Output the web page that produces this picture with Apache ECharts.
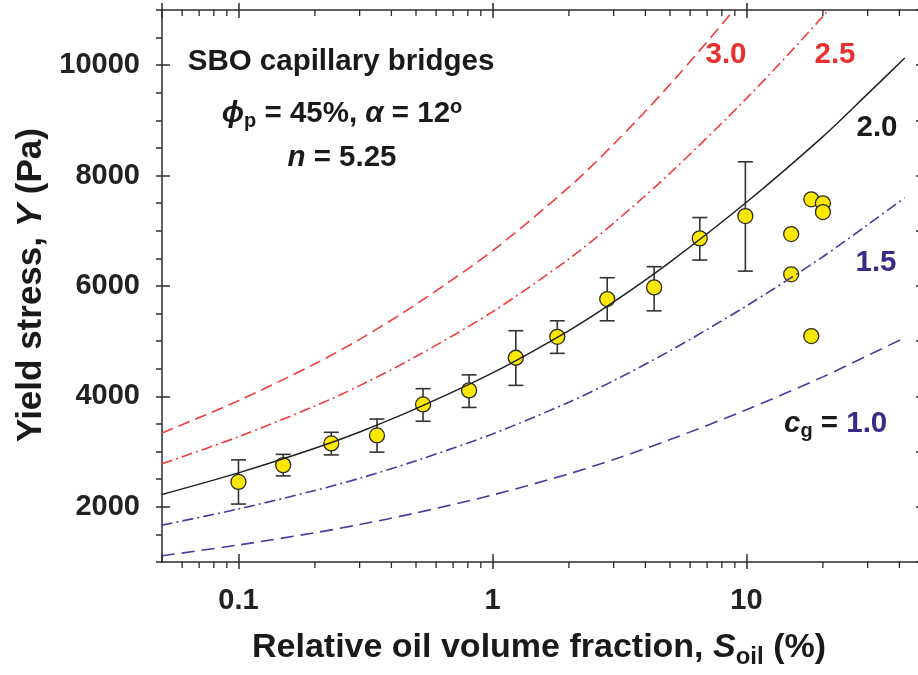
<!DOCTYPE html>
<html>
<head>
<meta charset="utf-8">
<script src="https://cdn.jsdelivr.net/npm/echarts@6/dist/echarts.min.js"></script>
<style>
html, body { margin: 0; padding: 0; background: #fff; }
#chart { width: 918px; height: 675px; }
</style>
</head>
<body>
<div id="chart"></div>
<script>
// Yield stress of SBO capillary-bridge suspensions vs. relative oil volume fraction
const soil      = [0.1, 0.15, 0.232, 0.351, 0.533, 0.809, 1.236, 1.8, 2.83, 4.33, 6.55, 9.9];
const yieldMean = [2450, 2755, 3148, 3293, 3855, 4109, 4700, 5080, 5763, 5975, 6863, 7267];
const yieldLow  = [2050, 2560, 2940, 2990, 3550, 3800, 4200, 4780, 5370, 5550, 6470, 6270];
const yieldHigh = [2850, 2950, 3350, 3590, 4140, 4390, 5190, 5370, 6150, 6350, 7240, 8250];

// Single measurements at high oil content (no error bars)
const soilSingle  = [15, 15, 18, 18, 20, 20];
const yieldSingle = [6941, 6211, 7570, 5093, 7497, 7340];

// Model curves for different c_g
const curveSoil = [0.05, 0.1, 0.2, 0.3, 0.5, 1, 2, 3, 5, 10, 20, 30, 42];
const curveCg10 = [1112, 1308, 1530, 1678, 1889, 2213, 2597, 2856, 3217, 3759, 4354, 4740, 5065];
const curveCg15 = [1668, 1961, 2295, 2517, 2834, 3319, 3895, 4284, 4826, 5639, 6530, 7110, 7598];
const curveCg20 = [2224, 2615, 3060, 3356, 3778, 4425, 5193, 5712, 6434, 7518, 8707, 9480, 10130];
const curveCg25 = [2780, 3269, 3825, 4195, 4723, 5531, 6491, 7140, 8043, 9398, 10884, 11850, 12663];
const curveCg30 = [3336, 3923, 4590, 5034, 5667, 6638, 7790, 8568, 9651, 11277, 13061, 14220, 15195];

// Axes
const xRange = [0.05, 50];
const yRange = [1000, 11000];
const xTicks = [0.1, 1, 10];
const yTicks = [2000, 4000, 6000, 8000, 10000];
const yMinorStep = 500;

const FONT = 'Liberation Sans';
const AXIS_COLOR = '#2b2b2b';
const RED = '#f03c3c';
const RED_TEXT = '#e8302f';
const BLUE = '#4a3a9c';
const BLUE_TEXT = '#3b2a86';
const INK = '#1a1a1a';
const TXT = 29.5;

// Log-axis minor ticks at 2..9 of each decade
const xMinor = [];
for (let e = -2; e <= 1; e++) {
  for (let m = 2; m <= 9; m++) {
    const v = m * Math.pow(10, e);
    if (v > xRange[0] * 1.001 && v < xRange[1] * 0.999) xMinor.push(v);
  }
}
const yAllTicks = [];
for (let v = yRange[0]; v <= yRange[1]; v += yMinorStep) yAllTicks.push(v);

const isDecade = v => Math.abs(Math.log10(v) - Math.round(Math.log10(v))) < 1e-6;

function logAxis(extra) {
  return Object.assign({
    type: 'log', logBase: 10, min: xRange[0], max: xRange[1],
    gridIndex: 0,
    splitLine: { show: false },
    minorTick: { show: false },
    axisLine: { show: true, onZero: false, lineStyle: { color: AXIS_COLOR, width: 1.5 } },
    axisLabel: { show: false },
    axisTick: { show: true, inside: false, length: 7, lineStyle: { color: AXIS_COLOR, width: 1.5 } }
  }, extra);
}
function valAxis(extra) {
  return Object.assign({
    type: 'value', min: yRange[0], max: yRange[1], interval: 1000,
    gridIndex: 0,
    splitLine: { show: false },
    axisLine: { show: true, onZero: false, lineStyle: { color: AXIS_COLOR, width: 1.5 } },
    axisLabel: { show: false },
    axisTick: { show: true, inside: false, length: 7, lineStyle: { color: AXIS_COLOR, width: 1.5 } }
  }, extra);
}

const curveSeries = (name, data, color, dash, width) => ({
  name, type: 'line', xAxisIndex: 0, yAxisIndex: 0,
  data: curveSoil.map((s, i) => [s, data[i]]),
  showSymbol: false, smooth: 0.3, clip: true, z: 5, silent: true,
  lineStyle: { color, width, type: dash }
});

const label = (x, y, text, fill) => ({
  type: 'text', x, y, z: 10,
  style: { text, align: 'center', verticalAlign: 'middle', fill, font: `bold ${TXT}px "${FONT}"` }
});

const chart = echarts.init(document.getElementById('chart'), null, { renderer: 'canvas' });

chart.setOption({
  animation: false,
  backgroundColor: '#fff',
  grid: { left: 162, top: 10, width: 762, height: 552, outerBoundsMode: 'none', containLabel: false },
  xAxis: [
    logAxis({
      position: 'bottom',
      axisLabel: {
        show: true, margin: 24, fontSize: 29, fontWeight: 'bold', fontFamily: FONT, color: '#222',
        showMinLabel: false, showMaxLabel: false,
        formatter: v => (isDecade(v) ? String(+v.toPrecision(6)) : '')
      }
    }),
    logAxis({ position: 'bottom', axisLine: { show: false }, axisTick: { show: true, inside: true, length: 8, lineStyle: { color: AXIS_COLOR, width: 1.5 } } }),
    logAxis({ position: 'top', axisTick: { show: true, inside: true, length: 8, lineStyle: { color: AXIS_COLOR, width: 1.5 } } }),
    logAxis({ position: 'top', axisLine: { show: false } })
  ],
  yAxis: [
    valAxis({
      position: 'left',
      axisLabel: {
        show: true, margin: 22, fontSize: 29, fontWeight: 'bold', fontFamily: FONT, color: '#222',
        customValues: yTicks,
        formatter: v => String(v)
      },
      axisTick: { show: true, inside: false, length: 6, customValues: yAllTicks, lineStyle: { color: AXIS_COLOR, width: 1.5 } }
    }),
    valAxis({ position: 'left', axisLine: { show: false }, axisTick: { show: true, inside: true, length: 8, customValues: yTicks, lineStyle: { color: AXIS_COLOR, width: 1.5 } } }),
    valAxis({ position: 'right', axisTick: { show: true, inside: true, length: 8, lineStyle: { color: AXIS_COLOR, width: 1.5 } } })
  ],
  series: [
    {
      // minor ticks of the logarithmic S_oil axis, bottom (outward) and top (inward)
      type: 'custom', xAxisIndex: 0, yAxisIndex: 0, silent: true, clip: false, z: 1,
      data: xMinor.map(v => [v, yRange[0]]),
      renderItem: (params, api) => {
        const b = api.coord([api.value(0), yRange[0]]);
        const t = api.coord([api.value(0), yRange[1]]);
        const st = { stroke: AXIS_COLOR, lineWidth: 1.3 };
        return { type: 'group', children: [
          { type: 'line', shape: { x1: b[0], y1: b[1], x2: b[0], y2: b[1] + 6 }, style: st },
          { type: 'line', shape: { x1: t[0], y1: t[1], x2: t[0], y2: t[1] + 6 }, style: st }
        ] };
      }
    },
    {
      // error bars
      type: 'custom', xAxisIndex: 0, yAxisIndex: 0, silent: true, z: 2,
      data: soil.map((s, i) => [s, yieldLow[i], yieldHigh[i]]),
      encode: { x: 0, y: [1, 2] },
      renderItem: (params, api) => {
        const lo = api.coord([api.value(0), api.value(1)]);
        const hi = api.coord([api.value(0), api.value(2)]);
        const w = 7.5;
        const st = { stroke: '#333', lineWidth: 1.6 };
        return { type: 'group', children: [
          { type: 'line', shape: { x1: lo[0], y1: lo[1], x2: hi[0], y2: hi[1] }, style: st },
          { type: 'line', shape: { x1: lo[0] - w, y1: lo[1], x2: lo[0] + w, y2: lo[1] }, style: st },
          { type: 'line', shape: { x1: hi[0] - w, y1: hi[1], x2: hi[0] + w, y2: hi[1] }, style: st }
        ] };
      }
    },
    {
      type: 'scatter', xAxisIndex: 0, yAxisIndex: 0, z: 3, silent: true,
      data: soil.map((s, i) => [s, yieldMean[i]]).concat(soilSingle.map((s, i) => [s, yieldSingle[i]])),
      symbol: 'circle', symbolSize: 15,
      itemStyle: { color: '#ffe800', borderColor: '#2a2a2a', borderWidth: 1.3, opacity: 1 }
    },
    curveSeries('c_g = 1.0', curveCg10, BLUE, [13, 7], 1.6),
    curveSeries('c_g = 1.5', curveCg15, BLUE, [11, 4, 2, 4], 1.6),
    curveSeries('c_g = 2.0', curveCg20, '#222', 'solid', 1.5),
    curveSeries('c_g = 2.5', curveCg25, RED, [11, 4, 2, 4], 1.6),
    curveSeries('c_g = 3.0', curveCg30, RED, [12, 6], 1.6)
  ],
  graphic: [
    // parameter box
    label(341, 62, 'SBO capillary bridges', INK),
    { type: 'text', x: 342, y: 114, z: 10, style: {
      text: '{gi|ϕ}{sub|p}{n| = 45%, }{gi|α}{n| = 12}{sup|o}', align: 'center', verticalAlign: 'middle',
      rich: {
        n:   { fill: INK, fontSize: TXT, fontWeight: 'bold', fontFamily: FONT, lineHeight: 34, verticalAlign: 'middle' },
        gi:  { fill: INK, fontSize: TXT, fontWeight: 'bold', fontStyle: 'italic', fontFamily: FONT, lineHeight: 34, verticalAlign: 'middle' },
        sub: { fill: INK, fontSize: 20, fontWeight: 'bold', fontFamily: FONT, lineHeight: 18, verticalAlign: 'bottom' },
        sup: { fill: INK, fontSize: 20, fontWeight: 'bold', fontFamily: FONT, lineHeight: 12, verticalAlign: 'top' }
      } } },
    { type: 'text', x: 342, y: 158, z: 10, style: {
      text: '{i|n}{n| = 5.25}', align: 'center', verticalAlign: 'middle',
      rich: {
        n: { fill: INK, fontSize: TXT, fontWeight: 'bold', fontFamily: FONT },
        i: { fill: INK, fontSize: TXT, fontWeight: 'bold', fontStyle: 'italic', fontFamily: FONT }
      } } },
    // curve labels
    label(726, 55, '3.0', RED_TEXT),
    label(835, 55, '2.5', RED_TEXT),
    label(877, 128, '2.0', INK),
    label(876, 263, '1.5', BLUE_TEXT),
    { type: 'text', x: 784, y: 424, z: 10, style: {
      text: '{i|c}{sub|g}{n| = }{b|1.0}', align: 'left', verticalAlign: 'middle',
      rich: {
        i:   { fill: INK, fontSize: TXT, fontWeight: 'bold', fontStyle: 'italic', fontFamily: FONT, lineHeight: 34, verticalAlign: 'middle' },
        sub: { fill: INK, fontSize: 20, fontWeight: 'bold', fontFamily: FONT, lineHeight: 18, verticalAlign: 'bottom' },
        n:   { fill: INK, fontSize: TXT, fontWeight: 'bold', fontFamily: FONT, lineHeight: 34, verticalAlign: 'middle' },
        b:   { fill: BLUE_TEXT, fontSize: TXT, fontWeight: 'bold', fontFamily: FONT, lineHeight: 34, verticalAlign: 'middle' }
      } } },
    // axis titles
    { type: 'text', x: 539, y: 648, z: 10, style: {
      text: '{n|Relative oil volume fraction, }{i|S}{sub|oil}{n| (%)}', align: 'center', verticalAlign: 'middle',
      rich: {
        n:   { fill: INK, fontSize: 34, fontWeight: 'bold', fontFamily: FONT, lineHeight: 42, verticalAlign: 'middle' },
        i:   { fill: INK, fontSize: 34, fontWeight: 'bold', fontStyle: 'italic', fontFamily: FONT, lineHeight: 42, verticalAlign: 'middle' },
        sub: { fill: INK, fontSize: 24, fontWeight: 'bold', fontFamily: FONT, lineHeight: 23, verticalAlign: 'bottom' }
      } } },
    { type: 'text', x: 31, y: 285, rotation: Math.PI / 2, z: 10, style: {
      text: '{n|Yield stress, }{i|Y}{n| (Pa)}', align: 'center', verticalAlign: 'middle',
      rich: {
        n: { fill: INK, fontSize: 35, fontWeight: 'bold', fontFamily: FONT },
        i: { fill: INK, fontSize: 35, fontWeight: 'bold', fontStyle: 'italic', fontFamily: FONT }
      } } }
  ]
});
</script>
</body>
</html>
